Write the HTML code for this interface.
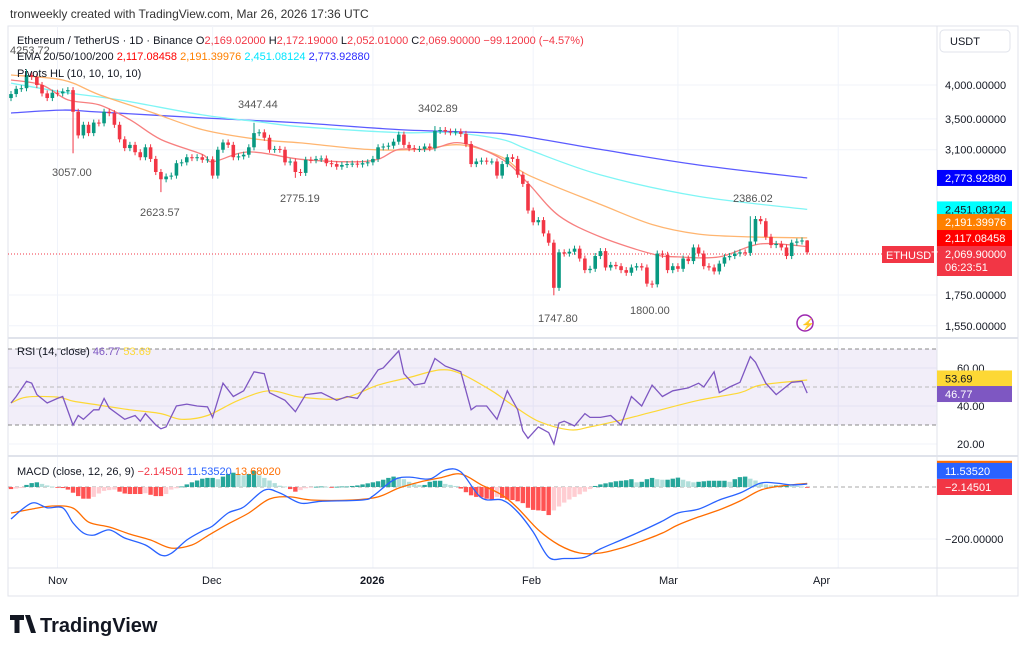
<!DOCTYPE html>
<html><head><meta charset="utf-8"><style>
body{margin:0;background:#fff;width:1024px;height:652px;overflow:hidden;font-family:"Liberation Sans",sans-serif}
svg{position:absolute;left:0;top:0}
</style></head><body>
<svg id="c" width="1024" height="652" xmlns="http://www.w3.org/2000/svg">
<rect x="0" y="0" width="1024" height="652" fill="#fff"/>
<text x="10" y="18" font-size="12" fill="#333">tronweekly created with TradingView.com, Mar 26, 2026 17:36 UTC</text>
<rect x="8" y="26" width="1010" height="570" fill="none" stroke="#e0e3eb"/>
<g id="grid"></g>
<rect x="8" y="349" width="929" height="76" fill="#7e57c2" fill-opacity="0.1"/>
<line x1="8" x2="937" y1="349" y2="349" stroke="#888" stroke-dasharray="4,3"/>
<line x1="8" x2="937" y1="387" y2="387" stroke="#bbb" stroke-dasharray="4,3"/>
<line x1="8" x2="937" y1="425" y2="425" stroke="#888" stroke-dasharray="4,3"/>
<line x1="8" x2="937" y1="487" y2="487" stroke="#aaa" stroke-dasharray="4,3"/>
<line x1="8" x2="1018" y1="338" y2="338" stroke="#e0e3eb" stroke-width="2"/>
<line x1="8" x2="1018" y1="456" y2="456" stroke="#e0e3eb" stroke-width="2"/>
<line x1="8" x2="1018" y1="568" y2="568" stroke="#e0e3eb"/>
<line x1="937" x2="937" y1="26" y2="596" stroke="#e0e3eb"/>
<line x1="8" x2="882" y1="254" y2="254" stroke="#f23645" stroke-dasharray="1,2"/>
<g id="plot"></g>
<g font-size="11" fill="#131722">
<text x="17" y="44">Ethereum / TetherUS · 1D · Binance  O<tspan fill="#f23645">2,169.02000</tspan>  H<tspan fill="#f23645">2,172.19000</tspan>  L<tspan fill="#f23645">2,052.01000</tspan>  C<tspan fill="#f23645">2,069.90000  −99.12000 (−4.57%)</tspan></text>
<text x="17" y="60">EMA 20/50/100/200  <tspan fill="#ff0000">2,117.08458</tspan>  <tspan fill="#ff8000">2,191.39976</tspan>  <tspan fill="#00e5ff">2,451.08124</tspan>  <tspan fill="#2a2aff">2,773.92880</tspan></text>
<text x="17" y="77">Pivots HL (10, 10, 10, 10)</text>
<text x="17" y="355">RSI (14, close)  <tspan fill="#7e57c2">46.77</tspan>  <tspan fill="#fdd835">53.69</tspan></text>
<text x="17" y="475">MACD (close, 12, 26, 9)  <tspan fill="#f23645">−2.14501</tspan>  <tspan fill="#2962ff">11.53520</tspan>  <tspan fill="#ff6d00">13.68020</tspan></text>
</g>
<g font-size="11" fill="#555">
<text x="10" y="54">4253.72</text><text x="238" y="108">3447.44</text><text x="418" y="112">3402.89</text>
<text x="733" y="202">2386.02</text><text x="52" y="176">3057.00</text><text x="140" y="216">2623.57</text>
<text x="280" y="202">2775.19</text><text x="538" y="322">1747.80</text><text x="630" y="314">1800.00</text>
</g>
<g id="axis" font-size="11" fill="#131722"></g>
<rect x="940" y="30" width="70" height="22" rx="4" fill="#fff" stroke="#e0e3eb"/>
<text x="950" y="45" font-size="11" fill="#131722">USDT</text>
<circle cx="805" cy="323" r="8" fill="none" stroke="#9c27b0" stroke-width="1.5"/>
<text x="801" y="328" font-size="11" fill="#9c27b0">⚡</text>
<g font-size="11" fill="#131722">
<text x="48" y="584">Nov</text><text x="202" y="584">Dec</text><text x="360" y="584" font-weight="bold">2026</text>
<text x="522" y="584">Feb</text><text x="659" y="584">Mar</text><text x="813" y="584">Apr</text>
</g>
<g>
<path d="M10 615h14v5h-4.5v13h-5v-13H10z M25 615h5l6 18h-5z" fill="#131722"/>
<text x="40" y="632" font-size="20" font-weight="bold" fill="#131722">TradingView</text>
</g>
</svg>
<script>
const closes=[3860,3940,3950,4160,4130,4000,3870,3800,3880,3870,3900,3920,3600,3280,3420,3310,3450,3440,3600,3580,3420,3230,3120,3160,3070,3010,3130,2990,2840,2760,2790,2800,2940,2950,3010,3000,3010,2980,2985,2800,3100,3190,3160,3010,3020,3040,3130,3310,3320,3250,3100,3110,
3100,2950,2960,2840,2830,2980,2975,2990,2995,2940,2930,2900,2920,2930,2935,2925,2940,2950,2990,3130,3140,3150,3200,3290,3160,3120,3110,3110,3140,3120,3340,3350,3330,3320,3330,3300,3170,2930,2960,2970,2960,2960,2800,2930,3010,2990,2810,2710,
2440,2330,2350,2230,2150,1800,2070,2060,2075,2100,2020,1930,1940,2040,2080,1950,1970,1960,1930,1910,1950,1960,1950,1830,1825,2060,2050,1930,1960,1940,2020,2000,2110,2060,1960,1950,1920,1980,2030,2040,2060,2070,2065,2160,2360,2340,2200,2130,2140,2110,2040,2150,2160,2169.02,2069.9];
const firstOpen=3800;
const pivotHighIdx=[3,47,82,143];
const pivotHighVals=[4253.72,3447.44,3402.89,2386.02];
const pivotLowIdx=[12,29,55,105,124];
const pivotLowVals=[3057,2623.57,2775.19,1747.8,1800];
const ema200Idx=[0,10,17,37,56,75,91,98,114,133,154];
const ema200Vals=[3583,3624,3597,3514,3445,3356,3317,3279,3104,2919,2774];
const ema100Idx=[0,10,21,37,48,56,75,85,95,100,114,133,154];
const ema100Vals=[4030,3890,3772,3556,3460,3395,3317,3317,3228,3104,2808,2580,2451];
const ema50Idx=[0,10,17,27,37,48,56,69,79,87,95,100,114,124,133,143,154];
const ema50Vals=[4160,4080,3852,3597,3356,3228,3185,3104,3104,3160,3010,2808,2500,2310,2224,2200,2191];
const ema20Idx=[0,6,11,17,23,29,37,39,46,56,66,71,75,81,87,95,100,106,114,124,129,137,145,154];
const ema20Vals=[4080,4000,3772,3700,3489,3228,3043,2956,3074,2986,2956,2986,3104,3104,3185,2986,2717,2390,2200,2057,2033,2033,2140,2117];
const rsiIdx=[0,1,3,4,5,7,9,10,12,13,14,16,17,18,19,22,24,25,26,28,29,30,32,34,36,38,39,41,43,45,47,49,50,53,55,57,60,63,65,67,68,69,71,72,75,76,78,80,82,84,87,89,90,92,94,96,98,99,100,102,104,105,106,107,109,111,112,114,116,118,120,122,124,126,128,131,133,134,136,137,139,141,143,144,146,148,151,153,154];
const rsiVals=[41.6,45,53,52,46,41.6,44,45,30,35,33,38,38,44,39,33,35,32,36,30,28,29,40,41,40,39.5,34,52,45,48,58,57,47,43,37,46,47,43,45,44,48,51,59,60,69,57,51,52,65,61,58,38,40,40,33,48,38,27,23,29,26,20,31,32,29.5,36,34,34,35,30,45,40,51,45,48,49.5,52,50,58,47,50,52.5,66,63,52,46,52.5,53,46.77];
const rsiMaIdx=[0,3,9,12,17,23,29,33,38,44,50,56,64,71,77,83,87,93,97,102,108,112,118,124,133,141,145,154];
const rsiMaVals=[41.6,44.7,44.7,42.6,40.5,38,36,33,35,43,48,44.7,44,51,55,59,57,48,40.5,32,27.5,29,32.6,36.8,43,47,51,53.69];
const macdIdx=[0,4,7,10,12,14,16,19,22,26,29,31,34,37,39,42,45,49,52,56,60,68,70,74,77,81,84,87,91,95,98,101,104,107,111,114,118,122,126,129,133,137,141,145,148,151,154];
const macdVals=[-123,-62,-80,-80,-138,-177,-185,-165,-196,-223,-262,-255,-204,-169,-150,-100,-77,-12,-23,-62,-55,-50,-35,27,38,31,65,58,-42,-50,-96,-173,-270,-275,-270,-238,-204,-169,-131,-100,-85,-50,-23,15,15,8,11.5];
const signalIdx=[0,4,8,12,15,19,23,27,31,35,38,42,46,50,54,58,66,71,75,79,83,87,91,95,98,102,106,110,114,118,122,126,129,133,137,141,145,149,154];
const signalVals=[-100,-85,-73,-81,-135,-154,-181,-204,-235,-223,-188,-142,-100,-46,-38,-50,-50,-38,-4,19,35,50,8,-31,-81,-165,-223,-254,-254,-235,-208,-177,-146,-115,-88,-54,-12,4,13.68];
const histVals=[-8,-6,-4,8,15,18,12,6,2,-2,-4,-10,-22,-35,-45,-45,-38,-25,-15,-12,-10,-18,-25,-27,-27,-27,-24,-30,-35,-35,-27,-10,-5,2,10,18,25,32,35,35,30,40,50,55,50,45,50,62,45,35,25,15,5,2,-8,-18,-12,-5,-2,1,2,1,-2,1,2,2,4,6,10,14,18,22,28,35,40,38,30,20,12,8,8,20,24,24,12,8,4,-6,-20,-32,-38,-40,-45,-48,-38,-42,-48,-50,-55,-62,-80,-88,-90,-92,-108,-90,-75,-60,-48,-38,-28,-18,-8,4,10,14,18,22,24,26,30,18,20,30,35,30,28,28,32,36,28,22,18,20,22,24,24,24,24,20,30,38,40,32,25,16,10,6,6,6,6,5,4,2,-2];
const priceTicks=[4000,3500,3100,1750,1550];
const priceTickLabels=["4,000.00000","3,500.00000","3,100.00000","1,750.00000","1,550.00000"];
const rsiTicks=[60,40,20];
const rsiTickLabels=["60.00","40.00","20.00"];
const macdTicks=[-200];
const macdTickLabels=["−200.00000"];
const monthIdx=[9,39,70,101,129,160];

const NS="http://www.w3.org/2000/svg";
const plot=document.getElementById('plot'),axis=document.getElementById('axis'),grid=document.getElementById('grid');
const xI=i=>11+i*5.17;
const yP=p=>85+254*Math.log(4000/p);
const yR=v=>387-(v-50)*1.9;
const yM=v=>487-v*0.26;
function mk(tag,attrs,parent){const e=document.createElementNS(NS,tag);for(const k in attrs)e.setAttribute(k,attrs[k]);(parent||plot).appendChild(e);return e;}
function f(n){return n.toFixed(1);}
function smooth(pts){let d='M'+f(pts[0][0])+' '+f(pts[0][1]);
 for(let i=0;i<pts.length-1;i++){const p0=pts[Math.max(0,i-1)],p1=pts[i],p2=pts[i+1],p3=pts[Math.min(pts.length-1,i+2)];
  const c1x=p1[0]+(p2[0]-p0[0])/6,c1y=p1[1]+(p2[1]-p0[1])/6,c2x=p2[0]-(p3[0]-p1[0])/6,c2y=p2[1]-(p3[1]-p1[1])/6;
  d+=' C'+f(c1x)+' '+f(c1y)+' '+f(c2x)+' '+f(c2y)+' '+f(p2[0])+' '+f(p2[1]);}
 return d;}
function poly(idx,vals,ys){return idx.map((i,k)=>[xI(i),ys(vals[k])]);}

priceTicks.forEach(t=>{const l=mk('line',{x1:8,x2:937,y1:yP(t),y2:yP(t),stroke:'#f0f3fa'},grid);

});
monthIdx.forEach(i=>{const l=mk('line',{x1:xI(i),x2:xI(i),y1:26,y2:568,stroke:'#f0f3fa'},grid);

});
rsiTicks.forEach(t=>{const l=mk('line',{x1:8,x2:937,y1:yR(t),y2:yR(t),stroke:'#f0f3fa'},grid);

});
macdTicks.forEach(t=>{const l=mk('line',{x1:8,x2:937,y1:yM(t),y2:yM(t),stroke:'#f0f3fa'},grid);

});

[[ema200Idx,ema200Vals,'#5b5bff','ema-200-line'],[ema100Idx,ema100Vals,'#7ff5f5','ema-100-line'],[ema50Idx,ema50Vals,'#ffb570','ema-50-line'],[ema20Idx,ema20Vals,'#f77f7f','ema-20-line']].forEach(s=>{
const p=mk('path',{d:smooth(poly(s[0],s[1],yP)),fill:'none',stroke:s[2],'stroke-width':1.3});

});

let prev=firstOpen;
closes.forEach((c,i)=>{
 const o=prev;prev=c;
 let h=Math.max(o,c)*1.012,l=Math.min(o,c)*0.988;
 const hi=pivotHighIdx.indexOf(i);if(hi>=0)h=pivotHighVals[hi];
 const li=pivotLowIdx.indexOf(i);if(li>=0)l=pivotLowVals[li];
 if(i===closes.length-1){h=2172.19;l=2052.01;}
 const col=c>=o?'#089981':'#f23645';const x=xI(i);
 const g=mk('g',{});
 
 
 mk('line',{x1:x,x2:x,y1:yP(h),y2:yP(l),stroke:col,'stroke-width':1},g);
 const top=Math.min(yP(o),yP(c));
 mk('rect',{x:x-1.8,y:top,width:3.6,height:Math.max(1,Math.abs(yP(o)-yP(c))),fill:col},g);
});

{const p=mk('path',{d:smooth(poly(rsiMaIdx,rsiMaVals,yR)),fill:'none',stroke:'#fdd835','stroke-width':1.2});


const q=mk('polyline',{points:poly(rsiIdx,rsiVals,yR).map(a=>f(a[0])+','+f(a[1])).join(' '),fill:'none',stroke:'#7e57c2','stroke-width':1.3});

}

histVals.forEach((v,i)=>{
 const pv=i>0?histVals[i-1]:v;
 const col=v>=0?(v>=pv?'#26a69a':'#b2dfdb'):(v<=pv?'#ff5252':'#ffcdd2');
 const r=mk('rect',{x:xI(i)-2.2,y:Math.min(yM(v),yM(0)),width:4.4,height:Math.max(0.8,Math.abs(yM(v)-yM(0))),fill:col});
 
 
});
{const p=mk('path',{d:smooth(poly(signalIdx,signalVals,yM)),fill:'none',stroke:'#ff6d00','stroke-width':1.3});


const q=mk('path',{d:smooth(poly(macdIdx,macdVals,yM)),fill:'none',stroke:'#2962ff','stroke-width':1.3});

}

priceTicks.forEach((t,k)=>{const e=mk('text',{x:945,y:yP(t)+4},axis);e.textContent=priceTickLabels[k];

});
rsiTicks.forEach((t,k)=>{const e=mk('text',{x:957,y:yR(t)+4},axis);e.textContent=rsiTickLabels[k];

});
macdTicks.forEach((t,k)=>{const e=mk('text',{x:945,y:yM(t)+4},axis);e.textContent=macdTickLabels[k];

});
const boxes=[[ema200Vals[ema200Vals.length-1],'#0000ff','#fff','2,773.92880','ema-200-price-tag',yP],
[ema100Vals[ema100Vals.length-1],'#00ffff','#131722','2,451.08124','ema-100-price-tag',yP],
[2332,'#ff8000','#fff','2,191.39976','ema-50-price-tag',yP],
[2190,'#ff0000','#fff','2,117.08458','ema-20-price-tag',yP],
[54.5,'#fdd835','#131722','53.69','rsi-ma-tag',yR],
[46.3,'#7e57c2','#fff','46.77','rsi-tag',yR],
[70,'#ff6d00','#fff','13.68020','signal-tag',yM],
[62,'#2962ff','#fff','11.53520','macd-tag',yM],
[0,'#f23645','#fff','−2.14501','histogram-tag',yM]];
boxes.forEach(b=>{const y=b[5](b[0]);const g=mk('g',{},axis);


mk('rect',{x:937,y:y-8,width:75,height:16,fill:b[1]},g);const t=mk('text',{x:945,y:y+4,fill:b[2]},g);t.textContent=b[3];});
{const g=mk('g',{},axis);


mk('rect',{x:937,y:246,width:75,height:30,fill:'#f23645'},g);
const t=mk('text',{x:945,y:258,fill:'#fff'},g);t.textContent='2,069.90000';
const t2=mk('text',{x:945,y:271,fill:'#fff'},g);t2.textContent='06:23:51';
mk('rect',{x:882,y:246,width:52,height:17,fill:'#f23645'},g);
const t3=mk('text',{x:886,y:259,fill:'#fff'},g);t3.textContent='ETHUSDT';}
</script>
</body></html>
